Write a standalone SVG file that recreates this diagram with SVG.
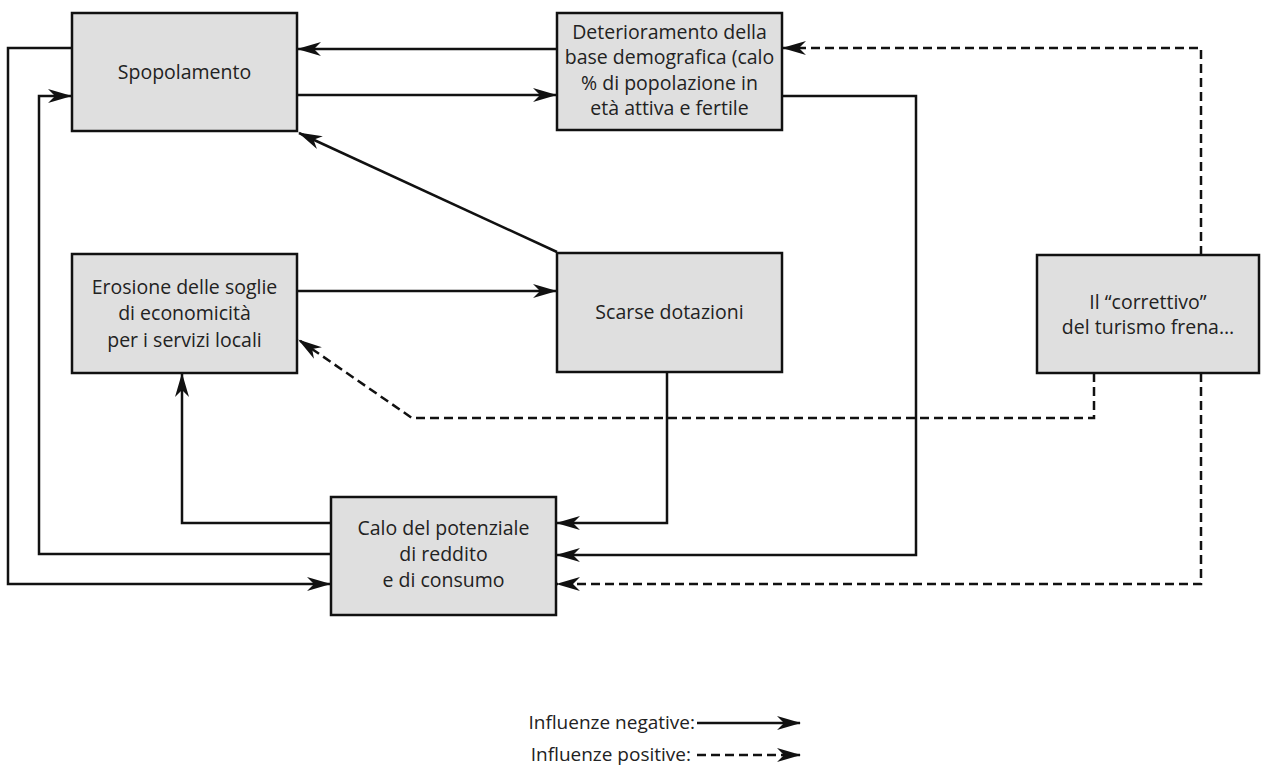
<svg xmlns="http://www.w3.org/2000/svg" width="1261" height="765" viewBox="0 0 1261 765">
<style>
.box{fill:#dfdfdf;stroke:#111;stroke-width:2.5}
.t{font-family:"Open Sans","Liberation Sans",sans-serif;font-size:19.5px;fill:#222;text-anchor:middle}
.lg{font-family:"Open Sans","Liberation Sans",sans-serif;font-size:19px;fill:#222;text-anchor:end}
.c{fill:none;stroke:#111;stroke-width:2.5;marker-end:url(#ah)}
.d{stroke-dasharray:9 5}
</style>
<defs>
<marker id="ah" markerUnits="userSpaceOnUse" markerWidth="24" markerHeight="14" refX="23" refY="7" orient="auto">
<path d="M0,0 L24,7 L0,14 L7,7 z" fill="#111"/>
</marker>
</defs>
<rect width="1261" height="765" fill="#fff"/>
<g id="connectors">
<path class="c" d="M557,49 H298"/>
<path class="c" d="M297,95 H556"/>
<path class="c" d="M557,252 L299,133"/>
<path class="c" d="M297,291 H556"/>
<path class="c" d="M72,48 H8 V584 H330"/>
<path class="c" d="M331,554 H39 V96 H71"/>
<path class="c" d="M331,523 H182 V374"/>
<path class="c" d="M667,372 V523 H557"/>
<path class="c" d="M782,96 H916 V555 H557"/>
<path class="c d" d="M1201,255 V48 H783"/>
<path class="c d" d="M1094,373 V418 H412 L299,340"/>
<path class="c d" d="M1201,373 V584 H557"/>
<path class="c" d="M697,723 H800"/>
<path class="c d" d="M697,755 H800"/>
</g>
<g id="spopolamento">
<rect class="box" x="72" y="13" width="225" height="118"/>
<text class="t" x="184.5" y="79">Spopolamento</text>
</g>
<g id="deterioramento">
<rect class="box" x="557" y="13" width="225" height="117"/>
<text class="t" x="669.5" y="39">Deterioramento della</text>
<text class="t" x="669.5" y="64">base demografica (calo</text>
<text class="t" x="669.5" y="90">% di popolazione in</text>
<text class="t" x="669.5" y="115">età attiva e fertile</text>
</g>
<g id="erosione">
<rect class="box" x="72" y="254" width="225" height="119"/>
<text class="t" x="184.5" y="294">Erosione delle soglie</text>
<text class="t" x="184.5" y="320">di economicità</text>
<text class="t" x="184.5" y="347">per i servizi locali</text>
</g>
<g id="scarse">
<rect class="box" x="557" y="253" width="225" height="119"/>
<text class="t" x="669.5" y="319">Scarse dotazioni</text>
</g>
<g id="correttivo">
<rect class="box" x="1037" y="255" width="222" height="118"/>
<text class="t" x="1148" y="309">Il “correttivo”</text>
<text class="t" x="1148" y="334">del turismo frena…</text>
</g>
<g id="calo">
<rect class="box" x="331" y="497" width="225" height="118"/>
<text class="t" x="443.5" y="535">Calo del potenziale</text>
<text class="t" x="443.5" y="561">di reddito</text>
<text class="t" x="443.5" y="587">e di consumo</text>
</g>
<g id="legend">
<text class="lg" x="695" y="729">Influenze negative:</text>
<text class="lg" x="691" y="761">Influenze positive:</text>
</g>
</svg>
